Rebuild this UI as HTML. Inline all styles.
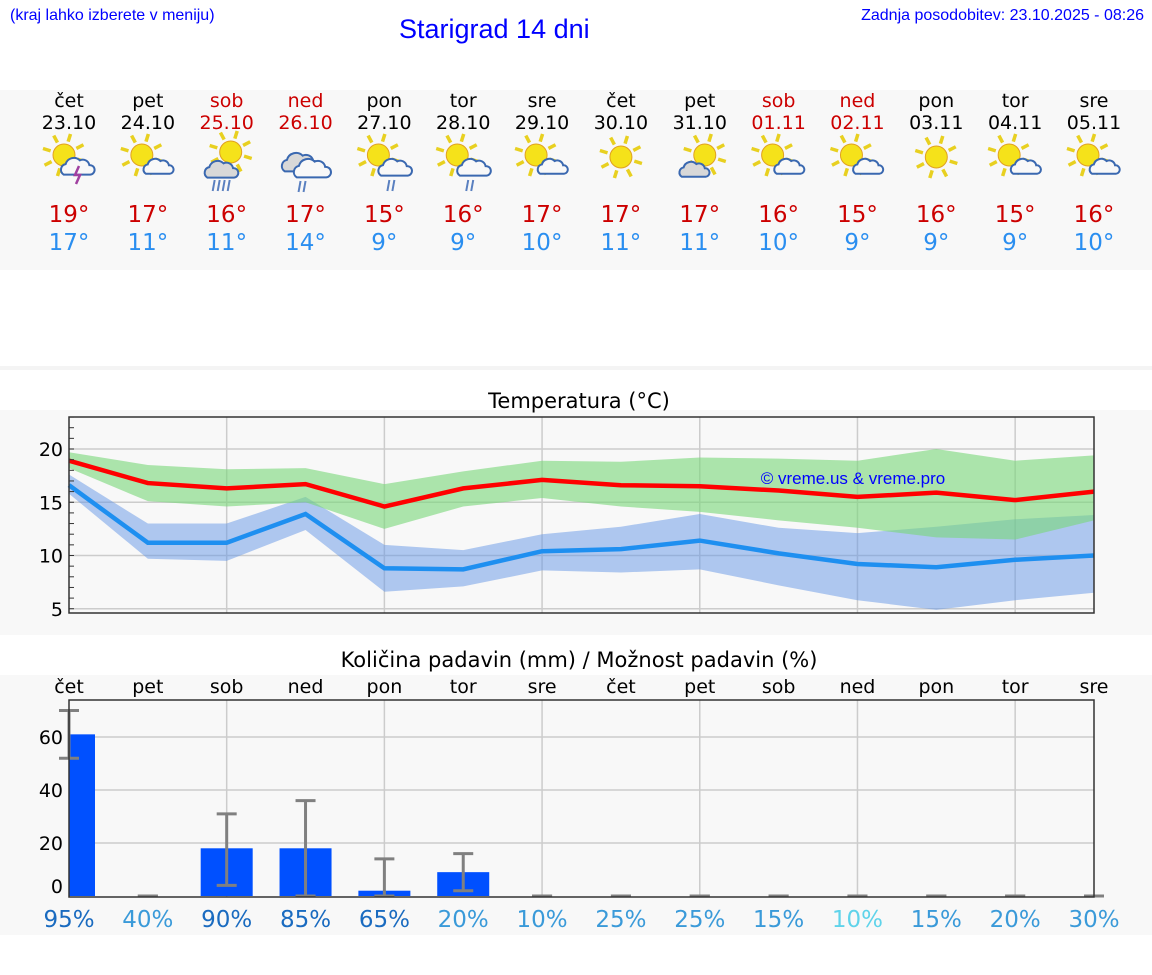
<!DOCTYPE html>
<html><head><meta charset="utf-8">
<style>
body{margin:0;width:1152px;height:975px;background:#fff;font-family:"DejaVu Sans","Liberation Sans",sans-serif;position:relative;overflow:hidden}
.abs{position:absolute}
.lnk{font-family:"Liberation Sans",sans-serif;color:#0000ff;font-size:16px}
.col{position:absolute;width:80px;text-align:center;font-size:19px;line-height:22px}
</style></head><body>
<div class="abs lnk" style="left:10px;top:7px">(kraj lahko izberete v meniju)</div>
<div class="abs" style="left:399px;top:14px;font-family:'Liberation Sans',sans-serif;color:#0000ff;font-size:27px">Starigrad 14 dni</div>
<div class="abs lnk" style="right:8px;top:7px">Zadnja posodobitev: 23.10.2025 - 08:26</div>
<div class="abs" style="left:0;top:90px;width:1152px;height:180px;background:#f8f8f8"></div>
<div class="abs" style="left:0;top:366px;width:1152px;height:4px;background:#f4f4f4"></div>
<div class="abs" style="left:0;top:410px;width:1152px;height:225px;background:#f8f8f8"></div>
<div class="abs" style="left:0;top:675px;width:1152px;height:260px;background:#f8f8f8"></div>
<div id="days"></div>
<svg id="chart" class="abs" style="left:0;top:0" width="1152" height="975"></svg>
<script>
const dayNames=["čet","pet","sob","ned","pon","tor","sre","čet","pet","sob","ned","pon","tor","sre"];
const dates=["23.10","24.10","25.10","26.10","27.10","28.10","29.10","30.10","31.10","01.11","02.11","03.11","04.11","05.11"];
const weekend=[0,0,1,1,0,0,0,0,0,1,1,0,0,0];
const hiLabels=[19,17,16,17,15,16,17,17,17,16,15,16,15,16];
const loLabels=[17,11,11,14,9,9,10,11,11,10,9,9,9,10];
const iconTypes=[0,1,2,3,4,4,1,5,6,1,1,5,1,1];
const maxT=[18.9,16.8,16.3,16.7,14.6,16.3,17.1,16.6,16.5,16.1,15.5,15.9,15.2,16.0];
const maxHi=[19.7,18.5,18.1,18.2,16.7,17.9,18.9,18.8,19.2,19.1,18.9,20.0,18.9,19.4];
const maxLo=[18.2,15.1,14.6,15.0,12.5,14.6,15.4,14.6,14.1,13.3,12.6,11.7,11.5,13.3];
const minT=[16.6,11.2,11.2,13.9,8.8,8.7,10.4,10.6,11.4,10.2,9.2,8.9,9.6,10.0];
const minHi=[17.6,13.0,13.0,15.5,11.0,10.5,12.0,12.7,13.9,12.6,12.1,12.7,13.4,13.8];
const minLo=[15.8,9.7,9.5,12.4,6.6,7.1,8.6,8.4,8.7,7.2,5.8,4.9,5.8,6.5];
const tempTicks=[5,10,15,20];
const precip=[61,0,18,18,2,9,0,0,0,0,0,0,0,0];
const errLo=[52,0,4,0,0,2,0,0,0,0,0,0,0,0];
const errHi=[70,0,31,36,14,16,0,0,0,0,0,0,0,0];
const precipTicks=[0,20,40,60];
const chance=[95,40,90,85,65,20,10,25,25,15,10,15,20,30];

const NS="http://www.w3.org/2000/svg";
const svg=document.getElementById('chart');
const X0=69,X1=1094,N=14;
const xd=i=>X0+i*(X1-X0)/(N-1);
const ty=v=>449+(20-v)*10.65;
const py=v=>896-v*2.65;
function el(tag,attrs,parent){const e=document.createElementNS(NS,tag);for(const k in attrs)e.setAttribute(k,attrs[k]);(parent||svg).appendChild(e);return e;}
function txt(x,y,s,attrs){const t=el('text',Object.assign({x:x,y:y,'font-family':'DejaVu Sans, Liberation Sans, sans-serif','font-size':19},attrs));t.textContent=s;return t;}

const days=document.getElementById('days');
for(let i=0;i<N;i++){
  const c=document.createElement('div');c.className='col';
  
  
  c.style.left=(xd(i)-40)+'px';c.style.top='90px';
  const col=weekend[i]?'#cc0000':'#000';
  c.innerHTML='<div style="color:'+col+'">'+dayNames[i]+'</div><div style="color:'+col+'">'+dates[i]+'</div>'+
   '<div style="height:67px"></div><div style="color:#cc0000;font-size:23px;line-height:28px">'+hiLabels[i]+'°</div><div style="color:#2a8ef0;font-size:23px;line-height:28px">'+loLabels[i]+'°</div>';
  days.appendChild(c);
}
function sun(g,cx,cy,r){
  for(let k=0;k<8;k++){const a=k*Math.PI/4+0.3;el('line',{x1:cx+Math.cos(a)*(r+3),y1:cy+Math.sin(a)*(r+3),x2:cx+Math.cos(a)*(r+11),y2:cy+Math.sin(a)*(r+11),stroke:'#e8d020','stroke-width':3.5},g);}
  el('circle',{cx:cx,cy:cy,r:r,fill:'#f5e21a',stroke:'#e0a020','stroke-width':1},g);
}
function cloud(g,cx,cy,s,fill){
  const p=`M${cx-14*s},${cy+8*s} a${6*s},${6*s} 0 0 1 ${2*s},${-11*s} a${9*s},${9*s} 0 0 1 ${15*s},${-4*s} a${7*s},${7*s} 0 0 1 ${10*s},${5*s} a${5*s},${5*s} 0 0 1 ${1*s},${10*s} z`;
  el('path',{d:p,fill:fill,stroke:'#3a68b0','stroke-width':2},g);
}
function rain(g,cx,cy,n){for(let k=0;k<n;k++)el('line',{x1:cx+k*5,y1:cy,x2:cx+k*5-2,y2:cy+11,stroke:'#5a80c0','stroke-width':2},g);}
for(let i=0;i<N;i++){
  const g=el('g',{});
  
  
  const cx=xd(i),t=iconTypes[i];
  if(t===0){sun(g,cx-5,155,11);cloud(g,cx+8,167,0.95,'#f8f8f8');el('path',{d:`M${cx+10},${166} l-4,9 5,0 -4,9`,stroke:'#a040a0','stroke-width':2.5,fill:'none'},g);}
  else if(t===1){sun(g,cx-6,155,11);cloud(g,cx+10,167,0.85,'#f8f8f8');}
  else if(t===2){sun(g,cx+4,152,11);cloud(g,cx-6,170,0.95,'#d8d8d8');rain(g,cx-12,180,4);}
  else if(t===3){cloud(g,cx-6,163,1.05,'#d8d8d8');cloud(g,cx+6,169,1.05,'#f8f8f8');rain(g,cx-5,181,2);}
  else if(t===4){sun(g,cx-6,155,11);cloud(g,cx+10,168,0.95,'#f8f8f8');rain(g,cx+5,180,2);}
  else if(t===5){sun(g,cx,157,11);}
  else if(t===6){sun(g,cx+5,155,11);cloud(g,cx-6,170,0.85,'#d8d8d8');}
}

txt(579,408,'Temperatura (°C)',{'text-anchor':'middle','font-size':21});
el('rect',{x:X0,y:417,width:X1-X0,height:196,fill:'#f8f8f8'});
for(const v of [5,10,15,20])el('line',{x1:X0,x2:X1,y1:ty(v),y2:ty(v),stroke:'#ccc','stroke-width':1.5});
for(let i=2;i<N-1;i+=2)el('line',{x1:xd(i),x2:xd(i),y1:417,y2:613,stroke:'#ccc','stroke-width':1.5});
function band(hi,lo,fill,name){const pts=hi.map((v,i)=>xd(i)+','+ty(v)).concat(lo.map((v,i)=>xd(i)+','+ty(v)).reverse());const p=el('polygon',{points:pts.join(' '),fill:fill});}
band(minHi,minLo,'rgba(100,150,230,0.5)','min-temp-range');
band(maxHi,maxLo,'rgba(120,215,120,0.6)','max-temp-range');
function line(d,c,name){const p=el('polyline',{points:d.map((v,i)=>xd(i)+','+ty(v)).join(' '),fill:'none',stroke:c,'stroke-width':4.5});}
line(minT,'#1e8ff0','min-temp-line');
line(maxT,'#ff0000','max-temp-line');
el('rect',{x:X0,y:417,width:X1-X0,height:196,fill:'none',stroke:'#333','stroke-width':1.5});
for(let v=5;v<=23;v++)el('line',{x1:X0,x2:X0+5,y1:ty(v),y2:ty(v),stroke:'#333'});
for(const v of tempTicks)txt(63,ty(v)+7,String(v),{'text-anchor':'end'});
txt(853,484,'© vreme.us & vreme.pro',{'text-anchor':'middle','font-size':17,fill:'#0000ff','font-family':'Liberation Sans, sans-serif'});

txt(579,667,'Količina padavin (mm) / Možnost padavin (%)',{'text-anchor':'middle','font-size':21});
for(let i=0;i<N;i++)txt(xd(i),693,dayNames[i],{'text-anchor':'middle'});
el('rect',{x:X0,y:700,width:X1-X0,height:197,fill:'#f8f8f8'});
for(const v of [20,40,60])el('line',{x1:X0,x2:X1,y1:py(v),y2:py(v),stroke:'#ccc','stroke-width':1.5});
for(let i=2;i<N-1;i+=2)el('line',{x1:xd(i),x2:xd(i),y1:700,y2:897,stroke:'#ccc','stroke-width':1.5});
for(let i=0;i<N;i++){
  if(precip[i]>0){
    const x=Math.max(X0,xd(i)-26),w=Math.min(xd(i)+26,X1)-x;
    const r=el('rect',{x:x,y:py(precip[i]),width:w,height:896-py(precip[i]),fill:'#0050ff'});
    
    
  }
  const g=el('g',{stroke:'#808080','stroke-width':3});
  
  
  el('line',{x1:xd(i),x2:xd(i),y1:py(errLo[i]),y2:py(errHi[i])},g);
  el('line',{x1:xd(i)-10,x2:xd(i)+10,y1:py(errLo[i]),y2:py(errLo[i])},g);
  el('line',{x1:xd(i)-10,x2:xd(i)+10,y1:py(errHi[i]),y2:py(errHi[i])},g);
}
el('rect',{x:X0,y:700,width:X1-X0,height:197,fill:'none',stroke:'#333','stroke-width':1.5});
for(const v of precipTicks)txt(63,py(v)+(v===0?-3:7),String(v),{'text-anchor':'end'});
for(let i=0;i<N;i++){
  const c=chance[i];
  const col=c>=50?'#1a6bc0':(i===10?'#5fd3ea':'#3a9ad9');
  const t=txt(xd(i),927,c+'%',{'text-anchor':'middle','font-size':23,fill:col});
  
  
}
</script>
</body></html>
